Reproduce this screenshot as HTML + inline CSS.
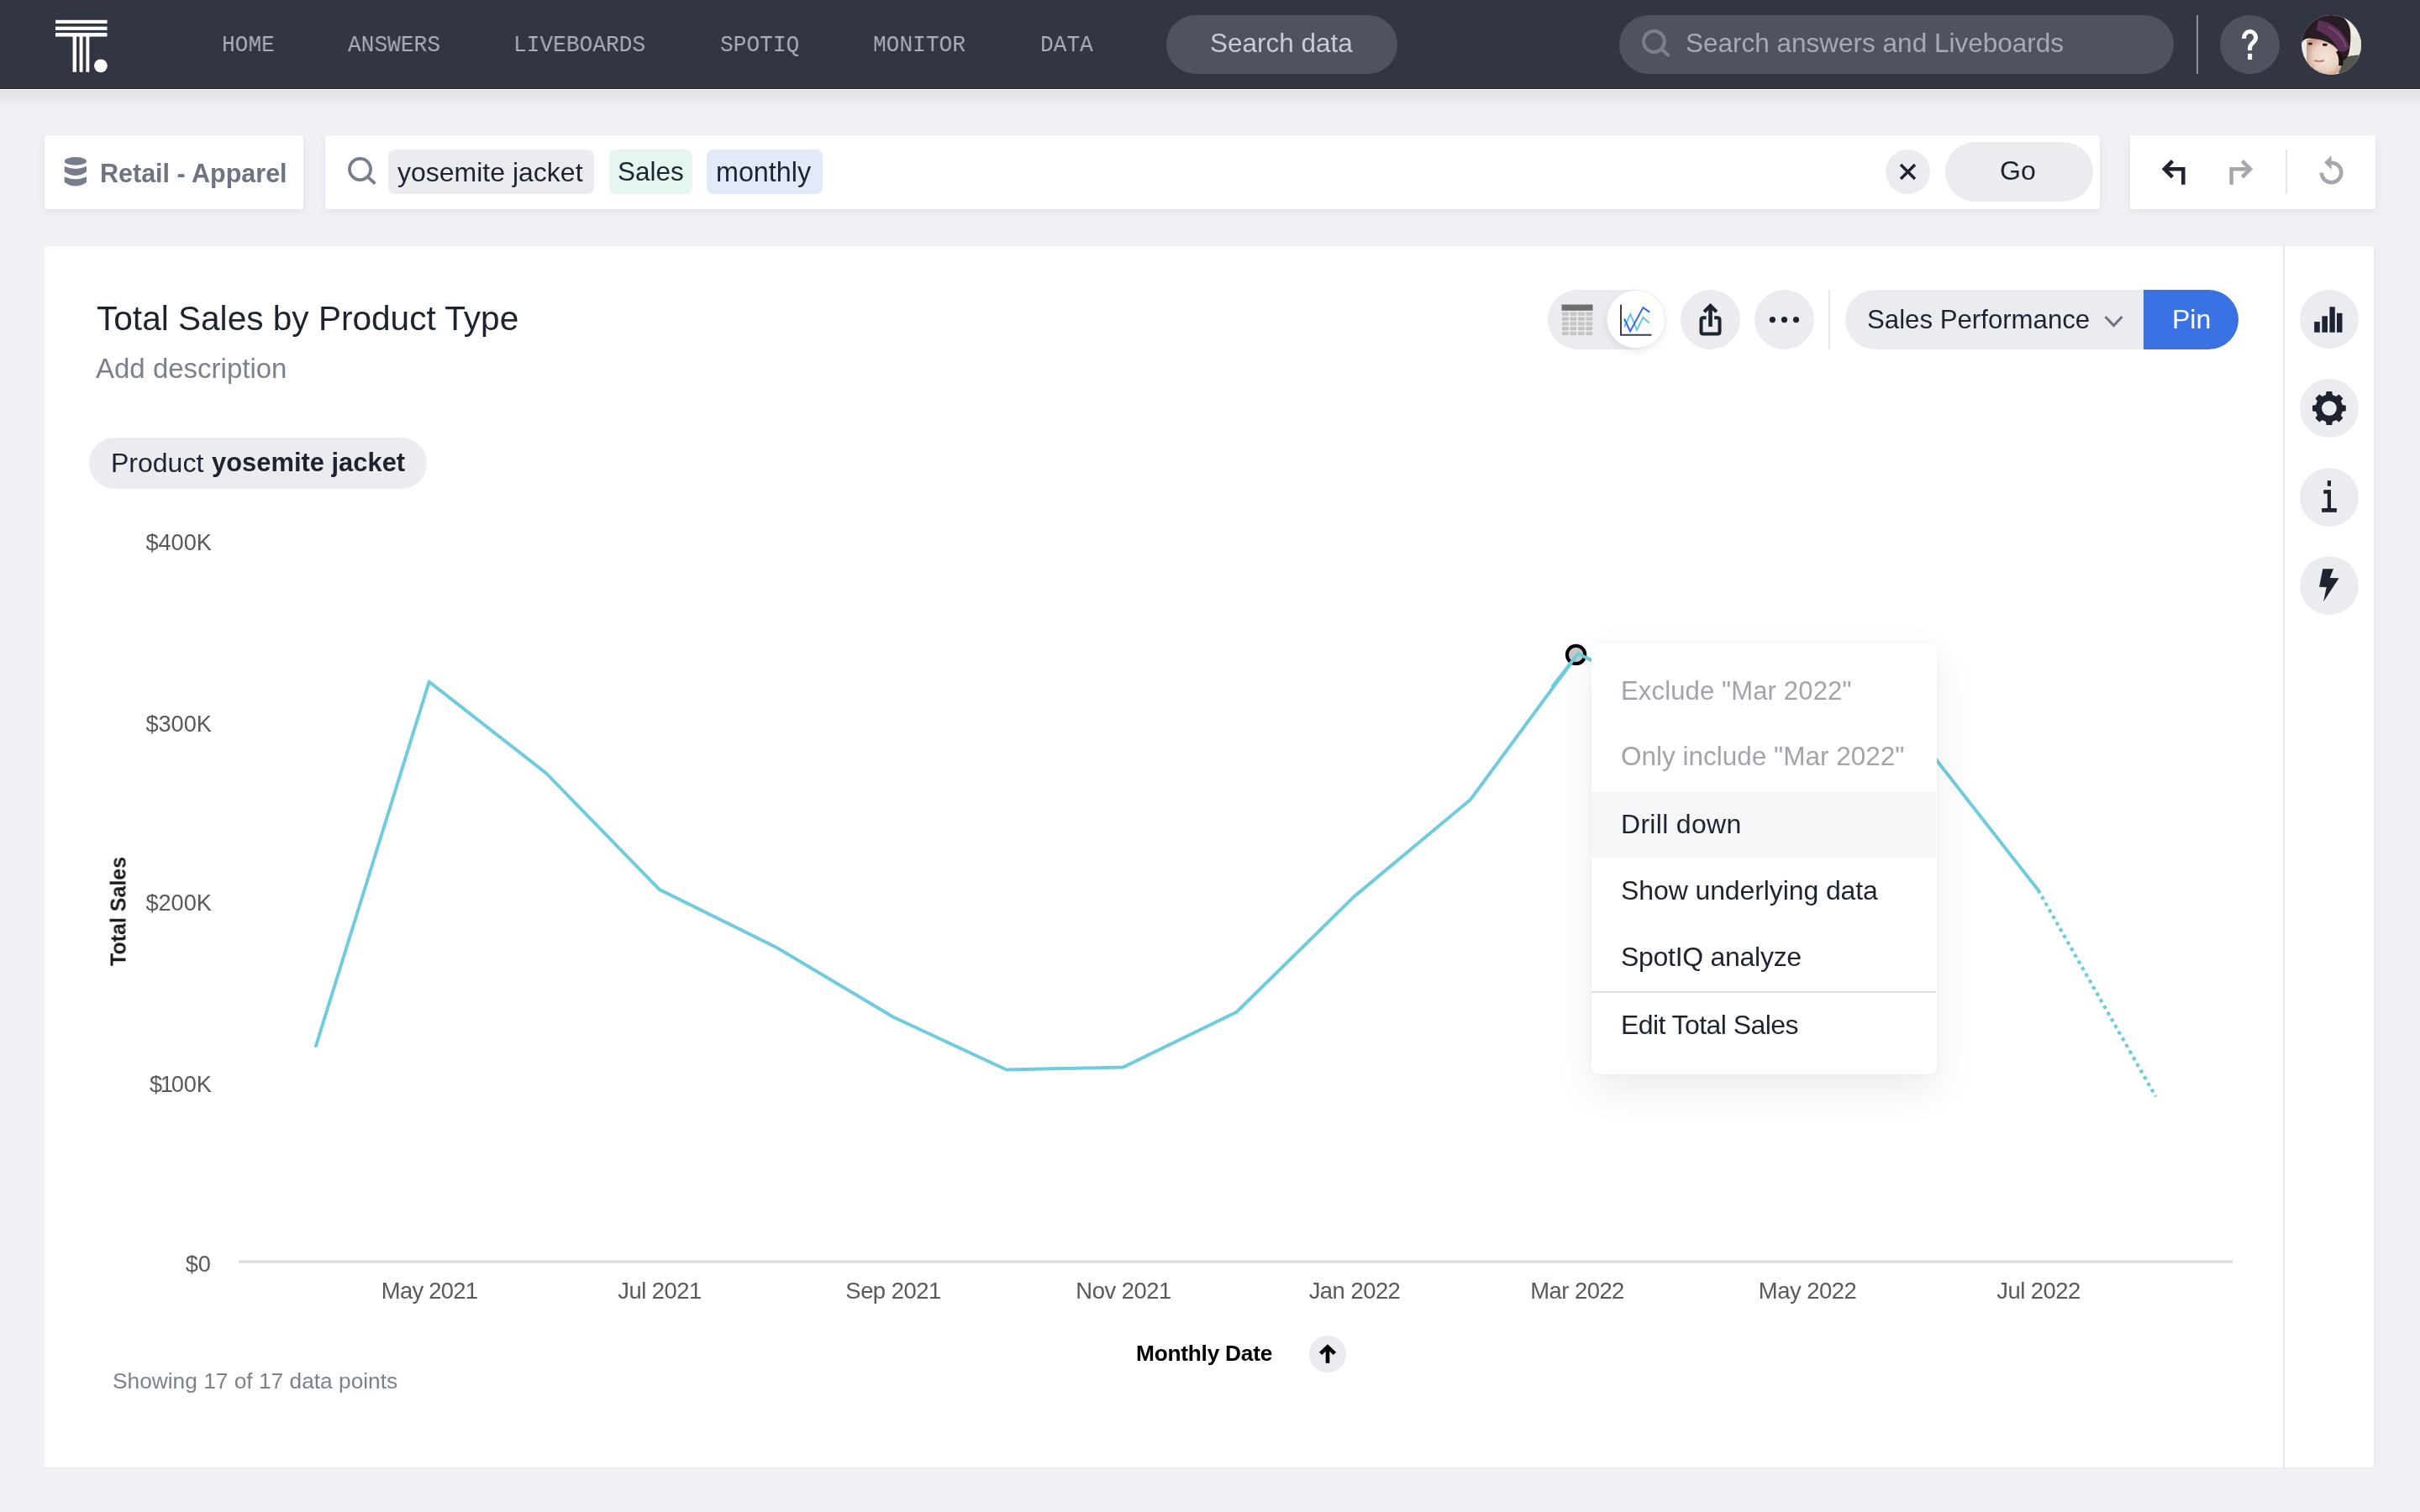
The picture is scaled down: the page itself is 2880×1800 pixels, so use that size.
<!DOCTYPE html>
<html><head><meta charset="utf-8">
<style>
*{box-sizing:border-box;margin:0;padding:0}
html,body{width:2880px;height:1800px;overflow:hidden;background:#f0f1f5;font-family:"Liberation Sans",sans-serif;color:#1d232f}
.a{position:absolute}
.t{position:absolute;white-space:nowrap;line-height:1;will-change:transform}
.ni{position:absolute;top:40.4px;font-family:"Liberation Mono",monospace;font-size:28.1px;color:#a9aeb9;line-height:1;transform:scaleX(0.932);transform-origin:0 0;white-space:nowrap;will-change:transform}
.pill{position:absolute;background:#4f5360;border-radius:36px}
.box{position:absolute;background:#fff;border-radius:4px;box-shadow:0 3px 8px rgba(30,35,50,0.07)}
.chip{position:absolute;border-radius:8px;height:53px;top:178px}
.circ{position:absolute;border-radius:50%;background:#ebecf0}
.xl{font-size:27.4px;letter-spacing:-0.5px;color:#595959;transform:translateX(-50%)}
.yl{font-size:27.2px;color:#595959;transform:translateX(-100%)}
.mi{left:1929px;font-size:32px;color:#1d232f}
</style></head><body>

<!-- ===== BACKGROUND LAYER ===== -->
<div class="a" style="left:0;top:106px;width:2880px;height:24px;background:linear-gradient(#e1e2e6,rgba(240,241,245,0))"></div>
<div class="a" style="left:0;top:0;width:2880px;height:105px;background:#323642"></div>
<div class="a" style="left:0;top:104.6px;width:2880px;height:1px;background:#252832"></div>
<div class="a" style="left:0;top:106px;width:2880px;height:1.2px;background:#fff"></div>
<div class="pill" style="left:1388px;top:18px;width:275px;height:70px"></div>
<div class="pill" style="left:1927px;top:18px;width:660px;height:70px"></div>
<div class="a" style="left:2614px;top:18px;width:2px;height:70px;background:#8b8e95"></div>
<div class="pill" style="left:2642px;top:18px;width:71px;height:70px"></div>

<div class="box" style="left:53px;top:161px;width:308px;height:88px"></div>
<div class="box" style="left:387px;top:161px;width:2112px;height:88px"></div>
<div class="chip" style="left:462px;width:245px;background:#ebecf0"></div>
<div class="chip" style="left:725px;width:99px;background:#e5f6ef"></div>
<div class="chip" style="left:841px;width:138px;background:#e3e9f8"></div>
<div class="circ" style="left:2244px;top:178px;width:53px;height:53px"></div>
<div class="a" style="left:2315px;top:169px;width:176px;height:71px;border-radius:36px;background:#ebecf0"></div>
<div class="box" style="left:2535px;top:161px;width:292px;height:88px;border-radius:2px"></div>
<div class="a" style="left:2719.5px;top:178px;width:2px;height:53px;background:#e4e5e9"></div>

<!-- card -->
<div class="a" style="left:53px;top:293px;width:2772px;height:1454px;background:#fff;box-shadow:1px 1px 3px rgba(30,35,50,0.05)"></div>
<div class="a" style="left:2717px;top:293px;width:2px;height:1454px;background:#e6e7eb"></div>
<div class="a" style="left:106px;top:521px;width:402px;height:61px;border-radius:31px;background:#ebecf0"></div>

<!-- toolbar -->
<div class="a" style="left:1842px;top:345px;width:138px;height:71px;border-radius:36px;background:#ebecf0"></div>
<div class="a" style="left:1912px;top:345px;width:70px;height:70px;border-radius:50%;background:#fff;border:1px solid #eceef2;box-shadow:0 3px 8px rgba(30,35,50,0.10)"></div>
<div class="circ" style="left:2000px;top:345px;width:71px;height:71px"></div>
<div class="circ" style="left:2088px;top:345px;width:71px;height:71px"></div>
<div class="a" style="left:2176px;top:345px;width:2px;height:71px;background:#e6e7eb"></div>
<div class="a" style="left:2196px;top:345px;width:420px;height:71px;border-radius:36px 0 0 36px;background:#ebecf0"></div>
<div class="a" style="left:2551px;top:345px;width:113px;height:71px;border-radius:0 36px 36px 0;background:#3a72e4"></div>

<!-- right sidebar -->
<div class="circ" style="left:2737px;top:345px;width:70px;height:70px"></div>
<div class="circ" style="left:2737px;top:451px;width:70px;height:70px"></div>
<div class="circ" style="left:2737px;top:557px;width:70px;height:70px"></div>
<div class="circ" style="left:2737px;top:662px;width:70px;height:70px"></div>

<div class="circ" style="left:1558px;top:1590px;width:44px;height:44px"></div>

<!-- ===== ICON + CHART LAYER ===== -->
<svg class="a" style="left:0;top:0" width="2880" height="1800" viewBox="0 0 2880 1800">
  <!-- logo -->
  <g fill="#fff">
    <rect x="66" y="23.8" width="61.5" height="4.2"/>
    <rect x="66" y="31.7" width="61.5" height="4.2"/>
    <rect x="66" y="39.1" width="61.5" height="4.5"/>
    <rect x="86.6" y="43" width="4.4" height="42.8"/>
    <rect x="94.6" y="43" width="3.9" height="42.8"/>
    <rect x="102.4" y="43" width="3.9" height="42.8"/>
    <circle cx="119.9" cy="78.3" r="7.9"/>
  </g>
  <!-- nav search icon -->
  <circle cx="1968.4" cy="49.5" r="12.4" fill="none" stroke="#7a7f8c" stroke-width="4"/>
  <line x1="1977.3" y1="58.4" x2="1986.5" y2="66.8" stroke="#7a7f8c" stroke-width="4"/>
  <!-- help ? -->
  <path d="M2670.6 45.9 V44.6 A7 7 0 0 1 2684.6 44.6 C2684.6 48.5 2682 50 2680 52 C2678.2 53.8 2677.6 55 2677.6 57 V59.9" fill="none" stroke="#fff" stroke-width="5"/>
  <rect x="2675.1" y="63.9" width="5" height="7.1" fill="#fff"/>
  <!-- avatar -->
  <defs>
    <clipPath id="av"><circle cx="35.5" cy="35.5" r="35.5"/></clipPath>
    <radialGradient id="face" cx="0.55" cy="0.5" r="0.6">
      <stop offset="0" stop-color="#f6e6dc"/><stop offset="0.6" stop-color="#ecd0c0"/><stop offset="1" stop-color="#c69784"/>
    </radialGradient>
  </defs>
  <g clip-path="url(#av)" transform="translate(2739 18)">
    <rect x="0" y="0" width="71" height="71" fill="#efece4"/>
    <rect x="56" y="25" width="15" height="28" fill="#e9e6dc"/>
    <path d="M46 52 C54 49 62 48 71 47 V71 H44 Z" fill="#54564d"/>
    <path d="M6 30 C14 26 30 28 40 36 C46 42 48 52 47 62 C45 70 38 72 30 72 C18 72 8 66 6 56 Z" fill="url(#face)"/>
    <path d="M0 0 H46 C52 4 57 10 58 18 C59 28 58 36 57 42 C56 48 54 52 50 54 C47 47 44 42 40 38 C32 31 18 27 6 28 C3 29 1 31 0 33 Z" fill="#2a1c24"/>
    <path d="M20 6 C36 8 50 18 57 38 C54 44 48 45 44 42 C40 32 32 24 18 18 Z" fill="#5e3459" opacity="0.9"/>
    <path d="M32 14 C42 18 50 28 53 38" stroke="#8e4a86" stroke-width="2" fill="none" opacity="0.7"/>
    <path d="M44 42 C49 46 51 52 49 60 L44 60 C45 54 44 48 41 44 Z" fill="#1a1416"/>
    <ellipse cx="10.3" cy="34" rx="2.8" ry="1.6" fill="#2a1e20"/>
    <ellipse cx="27.8" cy="35.2" rx="3" ry="1.7" fill="#2a1e20"/>
    <path d="M15 54 Q21 56 27 54" stroke="#b87c78" stroke-width="2" fill="none"/>
  </g>

  <!-- DB icon -->
  <g fill="#777d8a">
    <ellipse cx="89.9" cy="191.9" rx="13.1" ry="4.8"/>
    <path d="M76.8 198.1 Q89.9 203.9 103 198.1 V204.4 Q89.9 213.4 76.8 204.4 Z"/>
    <path d="M76.8 210.6 Q89.9 216 103 210.6 V217.1 Q89.9 226.1 76.8 217.1 Z"/>
  </g>
  <!-- search icon in bar -->
  <circle cx="428.5" cy="201.5" r="12.55" fill="none" stroke="#777d8a" stroke-width="3.7"/>
  <line x1="437.4" y1="210.4" x2="446.4" y2="218.6" stroke="#777d8a" stroke-width="3.8"/>
  <!-- X -->
  <path d="M2262 196 L2279 213 M2279 196 L2262 213" stroke="#1d232f" stroke-width="3.4"/>
  <!-- undo -->
  <path d="M2598.3 219.7 V201.3 H2576" fill="none" stroke="#1d232f" stroke-width="4.5"/>
  <path d="M2585.5 191.7 L2575.9 201.3 L2585.5 210.9" fill="none" stroke="#1d232f" stroke-width="4.5"/>
  <!-- redo -->
  <path d="M2655.6 219.7 V201.3 H2677" fill="none" stroke="#a5a7ac" stroke-width="4.5"/>
  <path d="M2668.4 191.7 L2678 201.3 L2668.4 210.9" fill="none" stroke="#a5a7ac" stroke-width="4.5"/>
  <!-- reset -->
  <path d="M2762.75 205.5 A11.75 11.75 0 1 0 2774.5 193.75" fill="none" stroke="#a5a7ac" stroke-width="4.5"/>
  <path d="M2766.1 193.4 L2774.7 185 L2774.7 201.8 Z" fill="#a5a7ac"/>

  <!-- table icon -->
  <rect x="1858.5" y="362.5" width="37" height="7.3" fill="#6f6f6f"/>
  <g fill="#c4c4c4">
    <rect x="1859" y="371.5" width="7.8" height="4.2"/><rect x="1868.4" y="371.5" width="7.8" height="4.2"/><rect x="1877.9" y="371.5" width="7.8" height="4.2"/><rect x="1887.4" y="371.5" width="7.8" height="4.2"/>
    <rect x="1859" y="377.5" width="7.8" height="4.2"/><rect x="1868.4" y="377.5" width="7.8" height="4.2"/><rect x="1877.9" y="377.5" width="7.8" height="4.2"/><rect x="1887.4" y="377.5" width="7.8" height="4.2"/>
    <rect x="1859" y="383.3" width="7.8" height="4.2"/><rect x="1868.4" y="383.3" width="7.8" height="4.2"/><rect x="1877.9" y="383.3" width="7.8" height="4.2"/><rect x="1887.4" y="383.3" width="7.8" height="4.2"/>
    <rect x="1859" y="389.1" width="7.8" height="4.2"/><rect x="1868.4" y="389.1" width="7.8" height="4.2"/><rect x="1877.9" y="389.1" width="7.8" height="4.2"/><rect x="1887.4" y="389.1" width="7.8" height="4.2"/>
    <rect x="1859" y="394.9" width="7.8" height="4.2"/><rect x="1868.4" y="394.9" width="7.8" height="4.2"/><rect x="1877.9" y="394.9" width="7.8" height="4.2"/><rect x="1887.4" y="394.9" width="7.8" height="4.2"/>
  </g>
  <!-- line chart icon -->
  <path d="M1929 362.7 V398.7 H1965.5" fill="none" stroke="#3a3f4b" stroke-width="2"/>
  <polyline points="1933,389.4 1940.4,374 1948,392.8 1955.4,377.9 1962.9,384.6" fill="none" stroke="#63c8d8" stroke-width="2"/>
  <polyline points="1933,379.5 1940.1,394.4 1955.4,366.1 1963.2,371.6" fill="none" stroke="#3366ee" stroke-width="2"/>
  <!-- share -->
  <path d="M2030.6 378.2 H2027 Q2024.5 378.2 2024.5 380.7 V395.1 Q2024.5 397.6 2027 397.6 H2044 Q2046.5 397.6 2046.5 395.1 V380.7 Q2046.5 378.2 2044 378.2 H2040.2" fill="none" stroke="#1d232f" stroke-width="4"/>
  <line x1="2035.5" y1="365" x2="2035.5" y2="388.9" stroke="#1d232f" stroke-width="4.6"/>
  <path d="M2028.15 371.2 L2035.5 363.9 L2042.85 371.2" fill="none" stroke="#1d232f" stroke-width="4.2"/>
  <!-- more -->
  <circle cx="2109.4" cy="380.6" r="3.6" fill="#1d232f"/>
  <circle cx="2123.5" cy="380.6" r="3.6" fill="#1d232f"/>
  <circle cx="2137.5" cy="380.6" r="3.6" fill="#1d232f"/>
  <!-- chevron -->
  <path d="M2505.5 377 L2515.5 387.5 L2525.5 377" fill="none" stroke="#6d727e" stroke-width="3"/>
  <!-- bar chart -->
  <g fill="#1d232f">
    <rect x="2754.2" y="383" width="6.6" height="12.7"/>
    <rect x="2763.4" y="376.3" width="6.6" height="19.4"/>
    <rect x="2772.4" y="365.3" width="6.4" height="30.4"/>
    <rect x="2781" y="372.8" width="6.5" height="22.9"/>
  </g>
  <!-- gear -->
  <g transform="translate(2771.9 486)" fill="#1d232f">
    <circle r="16.2"/>
    <g id="tooth"><path d="M-4.3 -14 L-3.3 -19.9 L3.3 -19.9 L4.3 -14 Z"/></g>
    <use href="#tooth" transform="rotate(45)"/>
    <use href="#tooth" transform="rotate(90)"/>
    <use href="#tooth" transform="rotate(135)"/>
    <use href="#tooth" transform="rotate(180)"/>
    <use href="#tooth" transform="rotate(225)"/>
    <use href="#tooth" transform="rotate(270)"/>
    <use href="#tooth" transform="rotate(315)"/>
    <circle r="8.85" fill="#ebecf0"/>
  </g>
  <!-- info -->
  <g fill="#1d232f">
    <rect x="2769.8" y="572.1" width="4.2" height="6.6"/>
    <rect x="2765.2" y="583.2" width="8.8" height="4.5"/>
    <rect x="2769.8" y="583.2" width="4.2" height="22"/>
    <rect x="2763.1" y="605" width="17.8" height="4.8"/>
  </g>
  <!-- lightning -->
  <path d="M2764.3 677.2 L2777 677.2 L2772.7 688.1 L2783.5 688.2 L2765.1 716.3 L2768.7 699 L2760.1 698.7 Z" fill="#1d232f"/>

  <!-- chart -->
  <rect x="284" y="1500.3" width="2373" height="3.4" fill="#dcdcdc"/>
  <polyline fill="none" stroke="#70ccdd" stroke-width="4" stroke-linejoin="round" stroke-linecap="round"
   points="376,1245 510.7,811.6 649.9,920.3 784.6,1058.9 923.8,1127.7 1063,1210.7 1197.8,1273.5 1337,1270.4 1471.7,1204.8 1610.9,1067.9 1750.1,951.7 1877.9,778.2 2015.1,844 2149.8,868 2289,885 2425.5,1059.5"/>
  <line x1="2425.5" y1="1059.5" x2="2565.5" y2="1305.5" stroke="#70ccdd" stroke-width="4.2" stroke-dasharray="4.3 4.5"/>
  <circle cx="1875.6" cy="779.4" r="10.7" fill="#c9c9c9" stroke="#000" stroke-width="4"/>
  <polyline fill="none" stroke="#70ccdd" stroke-width="4" stroke-linejoin="round" points="1847,818 1877.9,778.2 1895,786.5"/>

  <!-- sort arrow -->
  <line x1="1580" y1="1603.5" x2="1580" y2="1622.8" stroke="#000" stroke-width="4.6"/>
  <path d="M1571.6 1611.4 L1580 1603.4 L1588.4 1611.4" fill="none" stroke="#000" stroke-width="4.7"/>
</svg>

<!-- ===== TEXT LAYER ===== -->
<span class="ni" style="left:264px">HOME</span>
<span class="ni" style="left:414px">ANSWERS</span>
<span class="ni" style="left:611px">LIVEBOARDS</span>
<span class="ni" style="left:856.5px">SPOTIQ</span>
<span class="ni" style="left:1038.5px">MONITOR</span>
<span class="ni" style="left:1237.5px">DATA</span>
<span class="t" style="left:1440px;top:36px;font-size:31.5px;color:#c9ccd4">Search data</span>
<span class="t" style="left:2006px;top:36px;font-size:31.5px;color:#a6aab5">Search answers and Liveboards</span>

<span class="t" style="left:119px;top:191px;font-size:30.5px;font-weight:700;color:#6e7481">Retail - Apparel</span>
<span class="t" style="left:473px;top:189px;font-size:32px">yosemite jacket</span>
<span class="t" style="left:735px;top:189px;font-size:31.5px">Sales</span>
<span class="t" style="left:852px;top:189px;font-size:32.3px">monthly</span>
<span class="t" style="left:2380px;top:187px;font-size:32px">Go</span>

<span class="t" style="left:115px;top:359px;font-size:40.6px;color:#1d232f">Total Sales by Product Type</span>
<span class="t" style="left:114px;top:422px;font-size:33px;color:#7b818d">Add description</span>
<span class="t" style="left:132px;top:534.5px;font-size:32px;color:#1d232f">Product</span>
<span class="t" style="left:251.5px;top:535.5px;font-size:30.9px;font-weight:700;color:#1d232f">yosemite jacket</span>

<span class="t" style="left:2222px;top:365px;font-size:31.2px;color:#1d232f">Sales Performance</span>
<span class="t" style="left:2585px;top:364px;font-size:32px;color:#fff">Pin</span>

<span class="t yl" style="left:251.6px;top:632px">$400K</span>
<span class="t yl" style="left:251.6px;top:848px">$300K</span>
<span class="t yl" style="left:251.6px;top:1061px">$200K</span>
<span class="t yl" style="left:251.6px;top:1277px">$<span style="margin:0 -2.3px">1</span>00K</span>
<span class="t yl" style="left:251px;top:1491px">$0</span>
<div class="t" style="left:141px;top:1085px;transform:translate(-50%,-50%) rotate(-90deg);font-size:25px;font-weight:700;color:#1a1a1a">Total Sales</div>

<span class="t xl" style="left:510.7px;top:1523.2px;letter-spacing:-0.75px">May 2021</span>
<span class="t xl" style="left:784.6px;top:1523.2px;">Jul 2021</span>
<span class="t xl" style="left:1063px;top:1523.2px;">Sep 2021</span>
<span class="t xl" style="left:1337px;top:1523.2px;">Nov 2021</span>
<span class="t xl" style="left:1612px;top:1523.2px;">Jan 2022</span>
<span class="t xl" style="left:1876.5px;top:1523.2px;">Mar 2022</span>
<span class="t xl" style="left:2150.5px;top:1523.2px;">May 2022</span>
<span class="t xl" style="left:2426px;top:1523.2px;">Jul 2022</span>

<span class="t" style="left:1351.5px;top:1598px;font-size:26.3px;font-weight:700;color:#000;letter-spacing:-0.25px">Monthly Date</span>
<span class="t" style="left:134px;top:1631px;font-size:26.3px;color:#7b818d">Showing 17 of 17 data points</span>

<!-- ===== MENU ===== -->
<div class="a" style="left:1894px;top:766px;width:410.5px;height:513px;background:#fff;border-radius:8px;box-shadow:0 18px 48px rgba(30,35,50,0.085),0 0 6px rgba(30,35,50,0.035)"></div>
<div class="a" style="left:1894px;top:943px;width:410px;height:78px;background:#f5f6f8"></div>
<div class="a" style="left:1894px;top:1180px;width:410px;height:2px;background:#dcdee3"></div>
<span class="t mi" style="top:807px;color:#a1a4aa;font-size:31px;letter-spacing:0.15px">Exclude "Mar 2022"</span>
<span class="t mi" style="top:885px;color:#a1a4aa;font-size:31.5px">Only include "Mar 2022"</span>
<span class="t mi" style="top:964.5px;letter-spacing:0.3px">Drill down</span>
<span class="t mi" style="top:1043.5px;letter-spacing:-0.1px">Show underlying data</span>
<span class="t mi" style="top:1122.5px;letter-spacing:-0.28px">SpotIQ analyze</span>
<span class="t mi" style="top:1203.5px;letter-spacing:-0.57px">Edit Total Sales</span>

</body></html>
